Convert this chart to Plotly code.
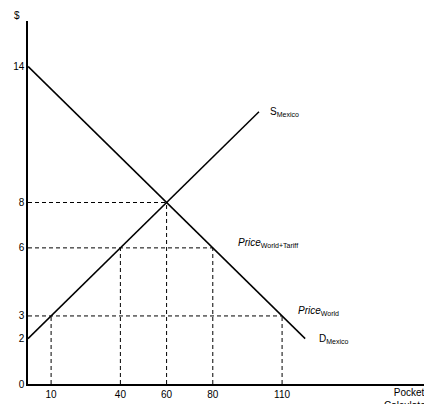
import plotly.graph_objects as go

demand_q = [0, 120]
demand_p = [14, 2]
supply_q = [0, 100]
supply_p = [2, 12]
price_levels = [8, 6, 3]
price_ends = [60, 80, 110]
quantities = [10, 40, 60, 80, 110]
quantity_prices = [3, 6, 8, 6, 3]
x_ticks = [10, 40, 60, 80, 110]
y_ticks = [0, 2, 3, 6, 8, 14]

fig = go.Figure()
blk = "black"
fig.add_trace(go.Scatter(x=demand_q, y=demand_p, mode="lines", line=dict(color=blk, width=1.5)))
fig.add_trace(go.Scatter(x=supply_q, y=supply_p, mode="lines", line=dict(color=blk, width=1.5)))
for p, q in zip(price_levels, price_ends):
    fig.add_trace(go.Scatter(x=[0, q], y=[p, p], mode="lines", line=dict(color=blk, width=1, dash="4px,3px")))
for q, p in zip(quantities, quantity_prices):
    fig.add_trace(go.Scatter(x=[q, q], y=[0, p], mode="lines", line=dict(color=blk, width=1, dash="4px,3px")))

f = dict(family="Liberation Sans, Arial", size=10, color=blk)
ann = [
    dict(x=0, y=1, xref="paper", yref="paper", text="$", xanchor="right", yanchor="bottom", xshift=-6, yshift=-2),
    dict(x=104, y=12, text="S<sub>Mexico</sub>", xanchor="left", yanchor="middle"),
    dict(x=90, y=6.2, text="<i>Price</i><sub>World+Tariff</sub>", xanchor="left", yanchor="middle"),
    dict(x=116, y=3.2, text="<i>Price</i><sub>World</sub>", xanchor="left", yanchor="middle"),
    dict(x=125, y=2.0, text="D<sub>Mexico</sub>", xanchor="left", yanchor="middle"),
    dict(x=165, y=0, text="Pocket<br>Calculators", xanchor="center", yanchor="top", yshift=-1),
]
for a in ann:
    a.update(showarrow=False, font=f)
fig.update_layout(
    width=432, height=404, margin=dict(l=20, r=2, t=13, b=28),
    paper_bgcolor="white", plot_bgcolor="white", showlegend=False,
    font=f, annotations=ann,
    xaxis=dict(range=[0, 177.5], tickvals=x_ticks, showgrid=False, zeroline=False, automargin=False,
               showline=True, linecolor=blk, linewidth=1.5, ticks="", tickfont=f),
    yaxis=dict(range=[0, 16], tickvals=y_ticks, showgrid=False, zeroline=False, automargin=False,
               showline=True, linecolor=blk, linewidth=1.5, ticks="", tickfont=f),
)
fig.write_html("out.html")
